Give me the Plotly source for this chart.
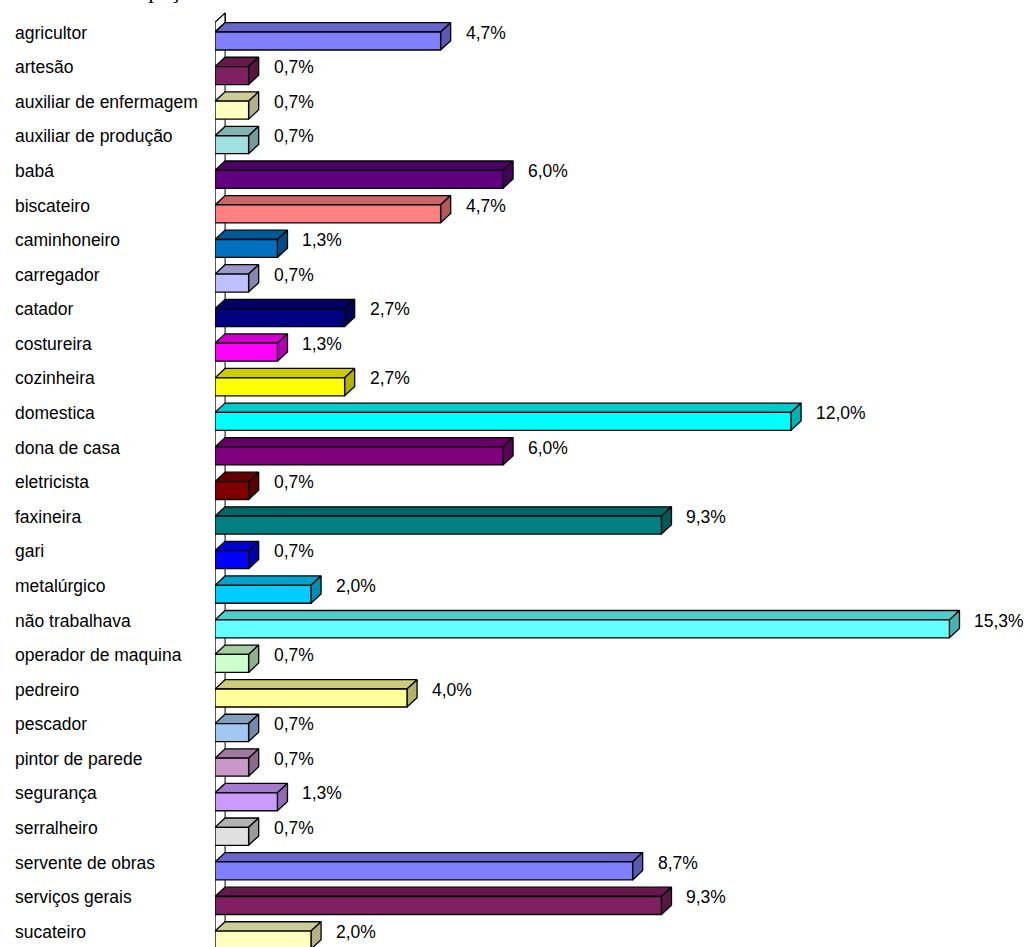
import plotly.graph_objects as go

# Occupation categories and their share (%) of respondents
categories = [
    "agricultor", "artesão", "auxiliar de enfermagem", "auxiliar de produção",
    "babá", "biscateiro", "caminhoneiro", "carregador", "catador", "costureira",
    "cozinheira", "domestica", "dona de casa", "eletricista", "faxineira", "gari",
    "metalúrgico", "não trabalhava", "operador de maquina", "pedreiro", "pescador",
    "pintor de parede", "segurança", "serralheiro", "servente de obras",
    "serviços gerais", "sucateiro",
]
values = [
    4.7, 0.7, 0.7, 0.7, 6.0, 4.7, 1.3, 0.7, 2.7, 1.3, 2.7, 12.0, 6.0, 0.7,
    9.3, 0.7, 2.0, 15.3, 0.7, 4.0, 0.7, 0.7, 1.3, 0.7, 8.7, 9.3, 2.0,
]
colors = [
    "#8080FF", "#802060", "#FFFFC0", "#A0E0E0", "#600080", "#FF8080", "#0070C0",
    "#C0C0FF", "#000080", "#FF00FF", "#FFFF00", "#00FFFF", "#800080", "#800000",
    "#008080", "#0000FF", "#00CCFF", "#66FFFF", "#CCFFCC", "#FFFF99", "#A0C8F0",
    "#C898C8", "#CC99FF", "#E0E0E0", "#8080FF", "#802060", "#FFFFC0",
]

# 3D bar geometry (data units)
DX = 0.21      # depth offset along x
DY = 0.27      # depth offset along y (upwards)
H = 0.52       # front face thickness

PX_PER_PCT = 48.0
LEFT = 215
TOP = 10
ROW_PX = 34.58
PLOT_H = 947 - TOP
PLOT_W = 1029 - LEFT
y0 = -(32 - TOP) / ROW_PX
y1 = y0 + PLOT_H / ROW_PX


def shade(hex_color, f):
    h = hex_color.lstrip("#")
    r, g, b = (int(h[k:k + 2], 16) for k in (0, 2, 4))
    return "#%02X%02X%02X" % (int(r * f), int(g * f), int(b * f))


fig = go.Figure()
line = dict(color="black", width=1.3)

# left wall: back and front edges plus its top cap
CAP = 0.28
fig.add_trace(go.Scatter(x=[DX, DX], y=[-DY - CAP, y1 + 1], mode="lines",
                         line=dict(color="black", width=1), hoverinfo="skip"))
fig.add_trace(go.Scatter(x=[0, 0], y=[-CAP, y1 + 1], mode="lines",
                         line=dict(color="black", width=1.3), hoverinfo="skip"))
fig.add_trace(go.Scatter(x=[0, 0, DX, DX, 0], y=[0, -CAP, -CAP - DY, -DY, 0],
                         mode="lines", fill="toself", fillcolor="white",
                         line=line, hoverinfo="skip"))

for i, (cat, v, c) in enumerate(zip(categories, values, colors)):
    # top face
    fig.add_trace(go.Scatter(
        x=[0, v, v + DX, DX, 0], y=[i, i, i - DY, i - DY, i],
        mode="lines", fill="toself", fillcolor=shade(c, 0.8), line=line,
        hoverinfo="skip"))
    # side face
    fig.add_trace(go.Scatter(
        x=[v, v + DX, v + DX, v, v], y=[i, i - DY, i + H - DY, i + H, i],
        mode="lines", fill="toself", fillcolor=shade(c, 0.7), line=line,
        hoverinfo="skip"))
    # front face
    fig.add_trace(go.Scatter(
        x=[0, v, v, 0, 0], y=[i, i, i + H, i + H, i],
        mode="lines", fill="toself", fillcolor=c, line=line,
        hovertext=f"{cat}: {v}%", hoverinfo="text"))

annotations = []
font = dict(family="Liberation Sans, Arial, sans-serif", size=17.5, color="black")
for i, (cat, v) in enumerate(zip(categories, values)):
    annotations.append(dict(
        x=v + DX, y=i + 0.02, xref="x", yref="y", xanchor="left", yanchor="middle",
        xshift=13, text=f"{v:.1f}".replace(".", ",") + "%", showarrow=False, font=font))
    annotations.append(dict(
        x=-(LEFT - 13) / PLOT_W, y=i + 0.02, xref="paper", yref="y", xanchor="left",
        yanchor="middle", text=cat, showarrow=False, font=font))

annotations.append(dict(
    x=(108 - LEFT) / PLOT_W, y=1 + 5 / PLOT_H, xref="paper", yref="paper",
    xanchor="left", yanchor="bottom", text="Ocupação", showarrow=False,
    font=dict(family="Liberation Serif, Times New Roman, serif", size=23, color="black")))

fig.update_layout(
    width=1029, height=947,
    margin=dict(l=LEFT, r=0, t=TOP, b=0, pad=0),
    paper_bgcolor="white", plot_bgcolor="white",
    showlegend=False,
    xaxis=dict(range=[0, PLOT_W / PX_PER_PCT], visible=False, fixedrange=True),
    yaxis=dict(range=[y1, y0], visible=False, fixedrange=True),
    annotations=annotations,
)

fig.write_html("out.html")
